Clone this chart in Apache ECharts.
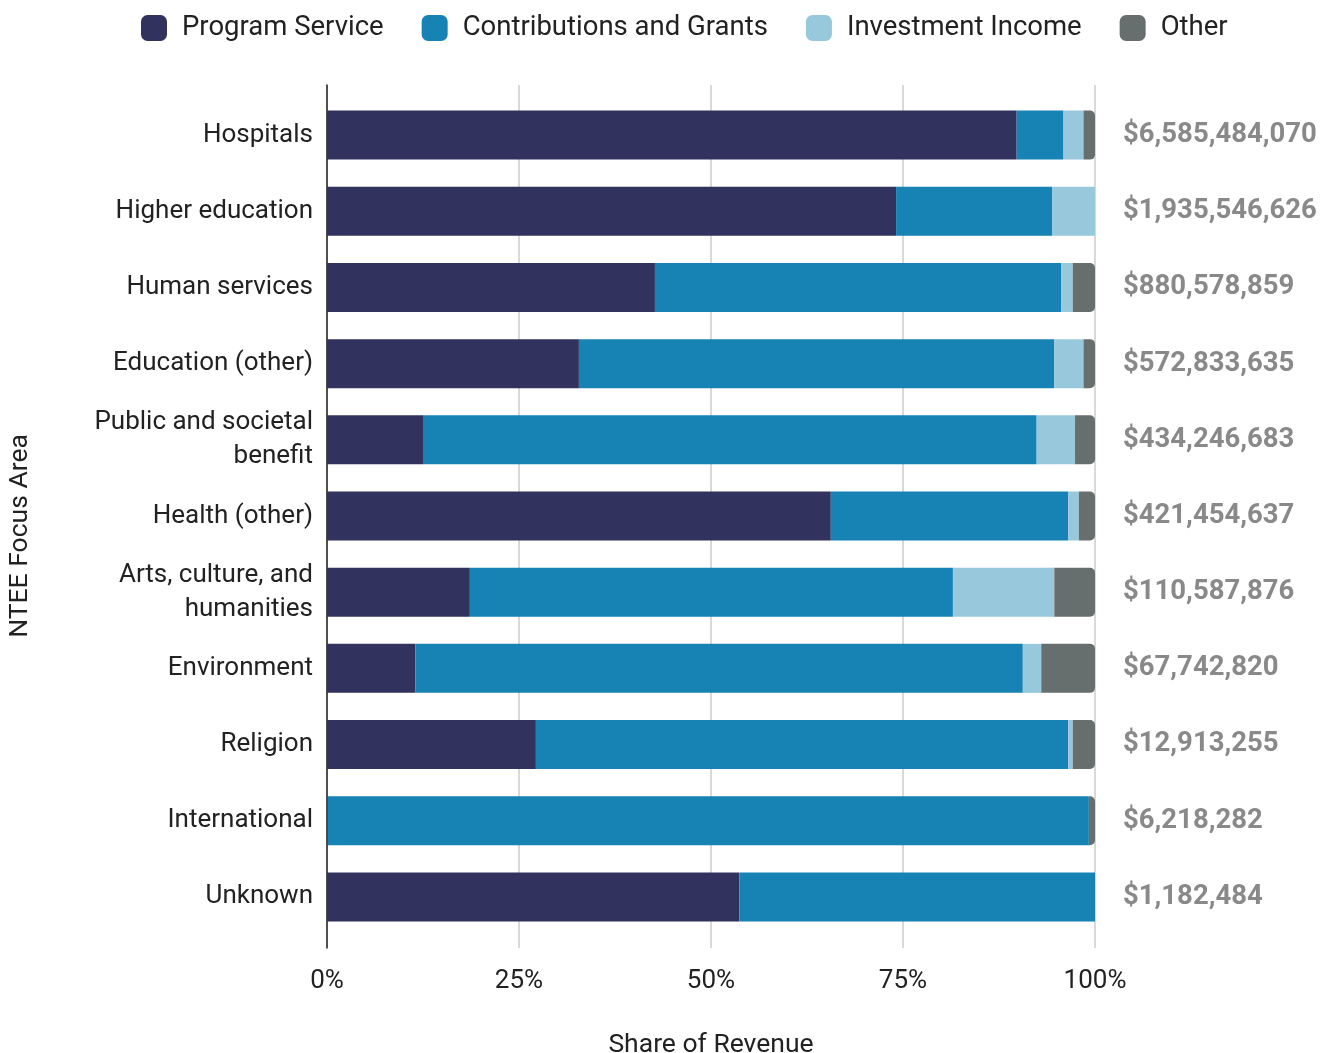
<!DOCTYPE html>
<html><head><meta charset="utf-8">
<script src="https://cdn.jsdelivr.net/npm/echarts@6/dist/echarts.min.js"></script>
<style>html,body{margin:0;padding:0;background:#fff}#c{width:1330px;height:1053px}</style>
</head><body><div id="c"></div>
<script>
const categories = ["Hospitals","Higher education","Human services","Education (other)","Public and societal\nbenefit","Health (other)","Arts, culture, and\nhumanities","Environment","Religion","International","Unknown"];
const totals = ["$6,585,484,070","$1,935,546,626","$880,578,859","$572,833,635","$434,246,683","$421,454,637","$110,587,876","$67,742,820","$12,913,255","$6,218,282","$1,182,484"];
const programService = [89.8,74.1,42.7,32.8,12.5,65.6,18.6,11.5,27.2,0.1,53.7];
const contributions  = [6.1,20.3,52.9,61.9,79.9,30.9,62.9,79.1,69.3,99.1,46.3];
const investment     = [2.6,5.6,1.5,3.8,5.0,1.4,13.2,2.4,0.6,0,0];
const other          = [1.5,0,2.9,1.5,2.6,2.1,5.3,7.0,2.9,0.8,0];
const seriesNames = ["Program Service","Contributions and Grants","Investment Income","Other"];
const colors = ["#32325f","#1782b4","#97c8dc","#676e6e"];
const xTicks = [0,25,50,75,100];

const chart = echarts.init(document.getElementById('c'));
const FONT = 'Roboto';
const seriesData = [programService, contributions, investment, other];
chart.setOption({
  animation: false,
  textStyle: {fontFamily: FONT},
  color: colors,
  legend: {
    top: 9, left: 136, itemWidth: 26, itemHeight: 26, itemGap: 38, icon: 'roundRect',
    textStyle: {fontSize: 27.5, color: '#222', fontFamily: FONT, padding: [0, 0, 0, 10]},
    data: seriesNames
  },
  grid: [
    {left: 327, right: 235, top: 97, bottom: 118, containLabel: false, outerBoundsMode: 'none'},
    {left: 327, right: 235, top: 85, bottom: 105, containLabel: false, outerBoundsMode: 'none'}
  ],
  xAxis: [
    {gridIndex: 0, type: 'value', min: 0, max: 100, show: false},
    {gridIndex: 1, type: 'value', min: xTicks[0], max: xTicks[xTicks.length-1], interval: 25,
     axisLine: {show: false}, axisTick: {show: false},
     splitLine: {show: true, lineStyle: {color: '#cccccc', width: 1.5}},
     axisLabel: {formatter: '{value}%', fontSize: 26, color: '#222', margin: 20, fontFamily: FONT},
     name: 'Share of Revenue', nameLocation: 'middle', nameGap: 84,
     nameTextStyle: {fontSize: 26.5, color: '#222', fontFamily: FONT}}
  ],
  yAxis: [
    {gridIndex: 0, type: 'category', data: categories, inverse: true,
     axisLine: {show: false}, axisTick: {show: false},
     axisLabel: {fontSize: 26, color: '#222', margin: 14, lineHeight: 34, fontFamily: FONT, padding: [6, 0, 0, 0]}},
    {gridIndex: 1, type: 'value', min: 0, max: 1, axisLabel: {show: false}, axisTick: {show: false},
     splitLine: {show: false}, axisLine: {show: true, lineStyle: {color: '#222', width: 1.5}}},
    {gridIndex: 0, type: 'category', data: totals, inverse: true, position: 'right',
     axisLine: {show: false}, axisTick: {show: false},
     axisLabel: {fontSize: 27.5, color: '#898989', fontWeight: 'bold', margin: 28, align: 'left', fontFamily: FONT, padding: [6, 0, 0, 0]}}
  ],
  graphic: [{
    type: 'text', x: 20, y: 536, rotation: Math.PI/2,
    style: {text: 'NTEE Focus Area', fontSize: 26.5, fill: '#222', fontFamily: FONT, align: 'center', verticalAlign: 'middle'}
  }],
  series: seriesNames.map((n, i) => ({
    name: n, type: 'bar', stack: 'total', xAxisIndex: 0, yAxisIndex: 0,
    barWidth: 49, data: seriesData[i],
    itemStyle: {color: colors[i], borderRadius: i === 3 ? [0,5,5,0] : 0}
  }))
});
</script></body></html>
